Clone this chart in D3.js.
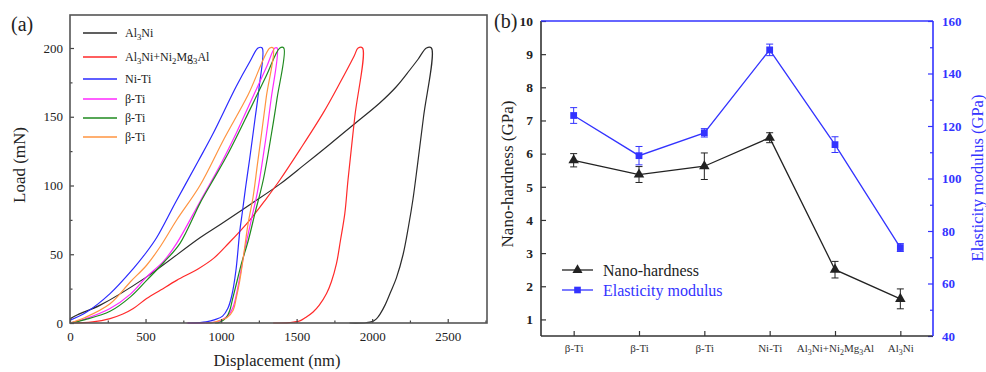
<!DOCTYPE html>
<html><head><meta charset="utf-8">
<script src="https://cdn.jsdelivr.net/npm/d3@7"></script>
<style>
body{margin:0;background:#fff}
svg{display:block}
text{font-family:"Liberation Serif","Times New Roman",serif}
</style>
</head><body>
<svg id="c" width="986" height="372"></svg>
<script>
// ---------- Panel (a) data: load–displacement curves [displacement nm, load mN] ----------
const seriesNamesA = ["Al3Ni", "Al3Ni+Ni2Mg3Al", "Ni-Ti", "β-Ti", "β-Ti", "β-Ti"];
const curveAl3Ni = [[0,3],[50,6],[200,13],[500,33],[860,62],[1000,72],[1190,86],[1389,101],[1550,115],[1720,130],[1874,144],[2050,160],[2161,172],[2249,184],[2305,192],[2359,200],[2392,200],[2340,150],[2300,115],[2270,90],[2240,70],[2205,50],[2161,33],[2120,22],[2085,13],[2055,7],[2028,3],[2000,1],[1960,0.2],[1850,0]];
const curveMix = [[0,0],[150,0.8],[265,3.2],[350,6.5],[419,10.5],[507,17.8],[600,24],[706,31],[850,39.5],[950,47],[1050,58],[1190,74.9],[1301,90.7],[1389,104],[1521,125.9],[1675,152.6],[1786,174.5],[1880,194],[1907,200],[1936,200],[1885,150],[1840,104],[1819,79.7],[1790,60],[1764,43.3],[1730,30],[1698,21.4],[1650,13],[1609,8],[1560,4],[1521,1.5],[1450,0.3],[1345,0]];
const curveNiTi = [[0,2],[110,8],[265,21.4],[419,39.6],[496,50],[573,62],[700,88],[850,118],[948,138],[1100,172],[1190,190],[1245,200],[1272,200],[1250,170],[1224,148],[1190,120],[1164,100],[1140,80],[1124,67],[1098,38],[1071,20],[1045,10.7],[1010,5],[960,2.5],[900,0.8],[860,0.3],[780,0]];
const curveBTi1 = [[0,0],[100,3],[265,10.5],[400,21],[507,33.5],[620,45],[706,57.9],[860,88.2],[1000,116],[1100,138],[1200,162],[1300,186],[1356,200],[1371,200],[1330,162],[1301,138],[1270,115],[1240,95],[1200,75],[1160,55],[1124,33.5],[1100,20],[1080,11.7],[1050,6],[1003,2],[950,0.5],[772,0]];
const curveBTi2 = [[0,0],[100,2.5],[265,8.5],[400,19],[507,31],[620,44],[728,57.9],[860,87],[937,102],[1050,124],[1190,155],[1300,180],[1389,200],[1415,200],[1370,163],[1334,138],[1279,104],[1224,79.7],[1180,60],[1135,43.3],[1100,28],[1075,17],[1058,9.3],[1035,4],[1014,2],[990,0.5],[960,0]];
const curveBTi3 = [[0,0],[100,4],[265,14],[400,30],[507,42],[600,56],[706,74.9],[860,100],[1020,134],[1179,166],[1323,200],[1345,200],[1300,165],[1268,138],[1240,115],[1212,91.8],[1179,72.4],[1150,50],[1124,31],[1100,18],[1080,9.3],[1040,4],[992,2],[950,0.5],[900,0]];
const xTicksA = [0, 500, 1000, 1500, 2000, 2500];
const xMinorA = [250, 750, 1250, 1750, 2250, 2750];
const yTicksA = [0, 50, 100, 150, 200];
const yMinorA = [25, 75, 125, 175, 225];

// ---------- Panel (b) data ----------
const categoriesB = ["β-Ti", "β-Ti", "β-Ti", "Ni-Ti", "Al3Ni+Ni2Mg3Al", "Al3Ni"];
const hardness = [5.8, 5.37, 5.62, 6.48, 2.5, 1.62];
const hardnessErr = [0.2, 0.24, 0.4, 0.15, 0.25, 0.3];
const modulus = [124, 108.7, 117.4, 149, 112.9, 73.7];
const modulusErr = [3, 3.5, 1.6, 2.2, 3, 1.5];
const yTicksBL = [1, 2, 3, 4, 5, 6, 7, 8, 9, 10];
const yTicksBR = [40, 60, 80, 100, 120, 140, 160];
const yMinorBR = [50, 70, 90, 110, 130, 150];

const svg = d3.select("#c");

// rich text with numeric subscripts
function rich(sel, str, size) {
  sel.text(null);
  let prevSub = false;
  str.split(/(\d)/).forEach(part => {
    if (!part) return;
    if (/^\d$/.test(part)) {
      sel.append("tspan").attr("font-size", size * 0.72).attr("dy", size * 0.28).text(part);
      prevSub = true;
    } else {
      const t = sel.append("tspan").text(part);
      if (prevSub) t.attr("dy", -size * 0.28);
      prevSub = false;
    }
  });
}

// ================= Panel (a) =================
const A = {l: 70, r: 487, t: 15, b: 323};
const xA = d3.scaleLinear().domain([0, 2760]).range([A.l, A.r]);
const yA = d3.scaleLinear().domain([0, 224]).range([A.b, A.t]);
const colorsA = ["#2b2b2b", "#ff2a2a", "#2a2aff", "#ff2aff", "#1f8a1f", "#ff9440"];
const curvesA = [curveAl3Ni, curveMix, curveNiTi, curveBTi1, curveBTi2, curveBTi3];

const gA = svg.append("g");
const lineA = d3.line().x(d => xA(d[0])).y(d => yA(d[1])).curve(d3.curveCatmullRom.alpha(0.5));
curvesA.forEach((c, i) => {
  gA.append("path").attr("d", lineA(c)).attr("fill", "none")
    .attr("stroke", colorsA[i]).attr("stroke-width", 1.2).attr("stroke-linejoin", "round");
});

const axA = gA.append("g");
axA.append("g").attr("transform", `translate(0,${A.b})`)
  .call(d3.axisBottom(xA).tickValues(xTicksA).tickSize(-4).tickPadding(9).tickFormat(d3.format("d")));
axA.append("g").attr("transform", `translate(0,${A.b})`)
  .call(d3.axisBottom(xA).tickValues(xMinorA.filter(v => v < 2760)).tickSize(-2.5).tickFormat(""));
axA.append("g").attr("transform", `translate(${A.l},0)`)
  .call(d3.axisLeft(yA).tickValues(yTicksA).tickSize(-4).tickPadding(7));
axA.append("g").attr("transform", `translate(${A.l},0)`)
  .call(d3.axisLeft(yA).tickValues(yMinorA.filter(v => v < 224)).tickSize(-2.5).tickFormat(""));
axA.selectAll(".domain").remove();
axA.selectAll(".tick line").attr("stroke", "#444").attr("stroke-width", 1.2);
axA.selectAll(".tick text").attr("font-size", 13).attr("fill", "#222")
  .style("font-family", '"Liberation Serif",serif');
gA.append("rect").attr("x", A.l).attr("y", A.t).attr("width", A.r - A.l).attr("height", A.b - A.t)
  .attr("fill", "none").attr("stroke", "#555").attr("stroke-width", 1.6);

// legend (a)
const legYs = [33, 57, 79, 99, 118, 137];
seriesNamesA.forEach((n, i) => {
  gA.append("line").attr("x1", 83).attr("x2", 117).attr("y1", legYs[i]).attr("y2", legYs[i])
    .attr("stroke", colorsA[i]).attr("stroke-width", 1.4);
  const t = gA.append("text").attr("x", 125).attr("y", legYs[i] + 4).attr("font-size", 12).attr("fill", "#222");
  rich(t, n, 12);
});

gA.append("text").attr("x", 11).attr("y", 31).attr("font-size", 20).attr("fill", "#222").text("(a)");
gA.append("text").attr("transform", `translate(25,165) rotate(-90)`).attr("text-anchor", "middle")
  .attr("font-size", 17).attr("fill", "#222").text("Load (mN)");
gA.append("text").attr("x", 277).attr("y", 366).attr("text-anchor", "middle")
  .attr("font-size", 16.5).attr("fill", "#222").text("Displacement (nm)");

// ================= Panel (b) =================
const B = {l: 541, r: 933, t: 21, b: 336};
const idx = categoriesB.map((d, i) => i);
const xB = d3.scalePoint().domain(idx).range([B.l, B.r]).padding(0.5);
const yBL = d3.scaleLinear().domain([0.5, 10]).range([B.b, B.t]);
const yBR = d3.scaleLinear().domain([40, 160]).range([B.b, B.t]);
const blue = "#3333ff";
const gB = svg.append("g");

// axes
const axBx = gB.append("g").attr("transform", `translate(0,${B.b})`)
  .call(d3.axisBottom(xB).tickSize(-5).tickPadding(8));
axBx.selectAll(".tick text").each(function(d) {
  const t = d3.select(this).attr("font-size", 11).attr("fill", "#333").style("font-family", '"Liberation Serif",serif');
  rich(t, categoriesB[d], 11);
});
const axBl = gB.append("g").attr("transform", `translate(${B.l},0)`)
  .call(d3.axisLeft(yBL).tickValues(yTicksBL).tickSize(-5).tickPadding(8));
axBl.selectAll(".tick text").attr("font-size", 13.5).attr("font-weight", "bold").attr("fill", "#222")
  .style("font-family", '"Liberation Serif",serif');
const axBr = gB.append("g").attr("transform", `translate(${B.r},0)`)
  .call(d3.axisRight(yBR).tickValues(yTicksBR).tickSize(-5).tickPadding(9));
const axBrm = gB.append("g").attr("transform", `translate(${B.r},0)`)
  .call(d3.axisRight(yBR).tickValues(yMinorBR).tickSize(-3).tickFormat(""));
axBr.selectAll(".tick text").attr("font-size", 13).attr("font-weight", "bold").attr("fill", blue)
  .style("font-family", '"Liberation Serif",serif');
[axBx, axBl, axBr, axBrm].forEach(a => a.select(".domain").remove());
axBx.selectAll(".tick line").attr("stroke", "#333").attr("stroke-width", 1.2);
axBl.selectAll(".tick line").attr("stroke", "#333").attr("stroke-width", 1.2);
axBr.selectAll(".tick line").attr("stroke", blue).attr("stroke-width", 1.2);
axBrm.selectAll(".tick line").attr("stroke", blue).attr("stroke-width", 1.2);

// frame
gB.append("line").attr("x1", B.l).attr("x2", B.r).attr("y1", B.b).attr("y2", B.b).attr("stroke", "#333").attr("stroke-width", 1.6);
gB.append("line").attr("x1", B.l).attr("x2", B.l).attr("y1", B.t).attr("y2", B.b).attr("stroke", "#333").attr("stroke-width", 1.6);
gB.append("line").attr("x1", B.l).attr("x2", B.r).attr("y1", B.t).attr("y2", B.t).attr("stroke", blue).attr("stroke-width", 1.6);
gB.append("line").attr("x1", B.r).attr("x2", B.r).attr("y1", B.t).attr("y2", B.b).attr("stroke", blue).attr("stroke-width", 1.6);

// series
function drawSeries(vals, errs, yS, color, shape) {
  const g = gB.append("g");
  g.append("path").attr("d", d3.line().x((d, i) => xB(i)).y(d => yS(d))(vals))
    .attr("fill", "none").attr("stroke", color).attr("stroke-width", 1.3);
  vals.forEach((v, i) => {
    const x = xB(i), y1 = yS(v + errs[i]), y2 = yS(v - errs[i]);
    g.append("line").attr("x1", x).attr("x2", x).attr("y1", y1).attr("y2", y2).attr("stroke", color).attr("stroke-width", 1);
    [y1, y2].forEach(y => g.append("line").attr("x1", x - 3.5).attr("x2", x + 3.5).attr("y1", y).attr("y2", y).attr("stroke", color).attr("stroke-width", 1));
    g.append("path").attr("transform", `translate(${x},${yS(v)})`)
      .attr("d", d3.symbol().type(shape).size(shape === d3.symbolTriangle ? 48 : 46)()).attr("fill", color);
  });
}
drawSeries(hardness, hardnessErr, yBL, "#222", d3.symbolTriangle);
drawSeries(modulus, modulusErr, yBR, blue, d3.symbolSquare);

// legend (b)
[["Nano-hardness", "#222", d3.symbolTriangle, "#222", 270], ["Elasticity modulus", blue, d3.symbolSquare, blue, 290]].forEach(([n, c, s, tc, y]) => {
  gB.append("line").attr("x1", 562).attr("x2", 593).attr("y1", y).attr("y2", y).attr("stroke", c).attr("stroke-width", 1.3);
  gB.append("path").attr("transform", `translate(577.5,${y})`).attr("d", d3.symbol().type(s).size(44)()).attr("fill", c);
  gB.append("text").attr("x", 603).attr("y", y + 5.5).attr("font-size", 16).attr("fill", tc).text(n);
});

gB.append("text").attr("x", 494).attr("y", 28).attr("font-size", 20).attr("fill", "#222").text("(b)");
gB.append("text").attr("transform", `translate(513,174) rotate(-90)`).attr("text-anchor", "middle")
  .attr("font-size", 17).attr("fill", "#222").text("Nano-hardness (GPa)");
gB.append("text").attr("transform", `translate(983,178) rotate(-90)`).attr("text-anchor", "middle")
  .attr("font-size", 16.5).attr("fill", blue).text("Elasticity modulus (GPa)");
</script>
</body></html>
